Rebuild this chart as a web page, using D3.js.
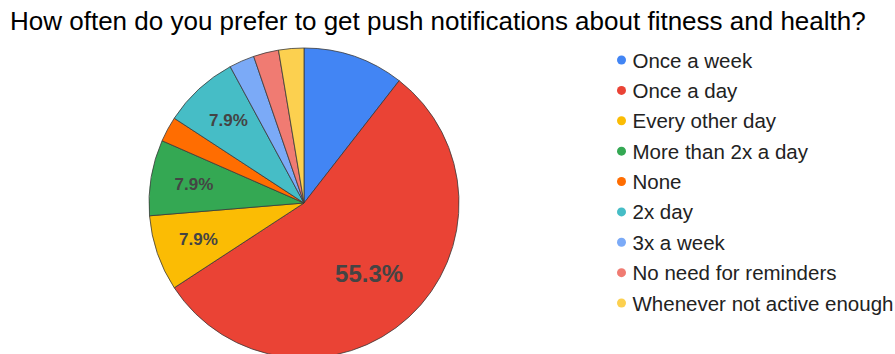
<!DOCTYPE html>
<html>
<head>
<meta charset="utf-8">
<script src="https://cdn.jsdelivr.net/npm/d3@7"></script>
<style>
  html, body { margin: 0; padding: 0; background: #fff; }
  svg { display: block; }
</style>
</head>
<body>
<svg id="chart" width="895" height="354"></svg>
<script>
// Responses per option
const categories = [
  "Once a week",
  "Once a day",
  "Every other day",
  "More than 2x a day",
  "None",
  "2x day",
  "3x a week",
  "No need for reminders",
  "Whenever not active enough"
];
const counts = [4, 21, 3, 3, 1, 3, 1, 1, 1];
const colors = [
  "#4285f4", "#ea4335", "#fbbc04", "#34a853", "#ff6d01",
  "#46bdc6", "#7baaf7", "#f07b72", "#fcd04f"
];
// Slices that carry a percentage label
const labelled = ["Once a day", "Every other day", "More than 2x a day", "2x day"];

const title = "How often do you prefer to get push notifications about fitness and health?";

const svg = d3.select("#chart");
const font = "Arial, 'Liberation Sans', sans-serif";

svg.append("text")
  .attr("x", 10).attr("y", 30)
  .attr("font-family", font)
  .attr("font-size", 26)
  .attr("fill", "#000")
  .text(title);

const cx = 304, cy = 203, r = 155;
const total = d3.sum(counts);
const data = categories.map((c, i) => ({ name: c, value: counts[i], color: colors[i] }));

const pie = d3.pie().value(d => d.value).sort(null);
const arcs = pie(data);
const arc = d3.arc().innerRadius(0).outerRadius(r);

const g = svg.append("g").attr("transform", `translate(${cx},${cy})`);

g.selectAll("path.slice")
  .data(arcs)
  .join("path")
  .attr("class", "slice")
  .attr("d", arc)
  .attr("fill", d => d.data.color)
  .attr("stroke", "#3a3a3a")
  .attr("stroke-width", 0.8)
  .attr("stroke-linejoin", "round");

const fmt = v => (v / total * 100).toFixed(1) + "%";

g.selectAll("text.pct")
  .data(arcs.filter(d => labelled.includes(d.data.name)))
  .join("text")
  .attr("class", "pct")
  .attr("transform", d => {
    const big = d.data.value / total > 0.3;
    const lr = r * (big ? 0.62 : 0.72);
    const c = d3.arc().innerRadius(lr).outerRadius(lr).centroid(d);
    return `translate(${c[0]},${c[1]})`;
  })
  .attr("text-anchor", "middle")
  .attr("dominant-baseline", "central")
  .attr("font-family", font)
  .attr("font-weight", "bold")
  .attr("font-size", d => d.data.value / total > 0.3 ? 24 : 17)
  .attr("fill", "#444")
  .text(d => fmt(d.data.value));

// Legend
const legend = svg.append("g");
const rowY = d3.scalePoint().domain(categories).range([60, 303]);
const rows = legend.selectAll("g.row")
  .data(data)
  .join("g")
  .attr("class", "row")
  .attr("transform", d => `translate(621.5,${rowY(d.name)})`);

rows.append("circle")
  .attr("r", 4.5)
  .attr("fill", d => d.color);

rows.append("text")
  .attr("x", 11)
  .attr("dominant-baseline", "central")
  .attr("font-family", font)
  .attr("font-size", 20.5)
  .attr("fill", "#222")
  .text(d => d.name);
</script>
</body>
</html>
